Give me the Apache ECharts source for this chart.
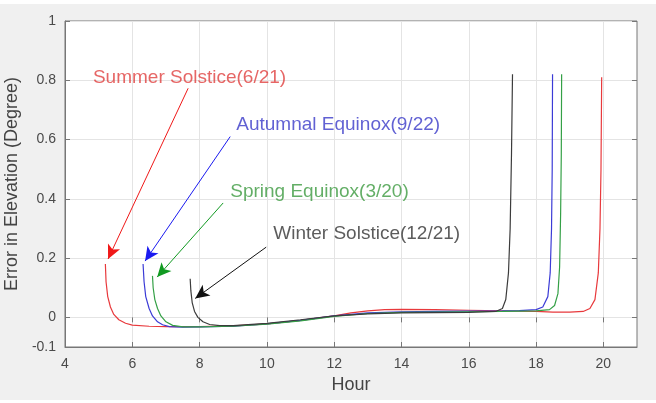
<!DOCTYPE html>
<html>
<head>
<meta charset="utf-8">
<script src="https://cdn.jsdelivr.net/npm/echarts@6/dist/echarts.min.js"></script>
<style>
  html, body { margin: 0; padding: 0; background: #f0f0f0; }
  #chart { width: 656px; height: 403px; }
</style>
</head>
<body>
<div id="chart"></div>
<script>
  // hour / error pairs
  const summer = [
    [5.2, 0.18], [5.22, 0.12], [5.27, 0.07], [5.35, 0.035], [5.45, 0.01], [5.6, -0.008],
    [5.8, -0.02], [6.0, -0.026], [6.5, -0.03], [7, -0.031], [8, -0.031], [9, -0.029],
    [10, -0.022], [11, -0.01], [12, 0.005], [12.5, 0.015], [13, 0.022], [13.5, 0.026],
    [14, 0.027], [15, 0.026], [16, 0.024], [17, 0.022], [18, 0.02], [18.5, 0.018],
    [19, 0.018], [19.4, 0.02], [19.6, 0.03], [19.75, 0.06], [19.85, 0.15], [19.9, 0.3],
    [19.93, 0.5], [19.95, 0.81]
  ];
  const autumn = [
    [6.32, 0.18], [6.35, 0.12], [6.4, 0.07], [6.5, 0.03], [6.6, 0.005], [6.75, -0.015],
    [6.9, -0.025], [7.1, -0.031], [7.5, -0.033], [8, -0.032], [9, -0.03], [10, -0.022],
    [11, -0.01], [12, 0.005], [13, 0.015], [14, 0.019], [15, 0.02], [16, 0.021],
    [17, 0.022], [17.5, 0.023], [18, 0.026], [18.2, 0.035], [18.35, 0.07], [18.42, 0.15],
    [18.46, 0.3], [18.48, 0.5], [18.49, 0.82]
  ];
  const spring = [
    [6.6, 0.14], [6.62, 0.1], [6.67, 0.06], [6.75, 0.03], [6.85, 0.005], [7.0, -0.015],
    [7.2, -0.027], [7.5, -0.032], [8, -0.032], [9, -0.03], [10, -0.023], [11, -0.012],
    [12, 0.003], [13, 0.013], [14, 0.017], [15, 0.018], [16, 0.019], [17, 0.02],
    [18, 0.022], [18.4, 0.026], [18.55, 0.04], [18.65, 0.08], [18.7, 0.17], [18.73, 0.35],
    [18.75, 0.55], [18.76, 0.82]
  ];
  const winter = [
    [7.72, 0.13], [7.74, 0.09], [7.78, 0.05], [7.85, 0.02], [7.95, 0], [8.1, -0.015],
    [8.3, -0.024], [8.6, -0.028], [9, -0.028], [10, -0.02], [11, -0.008], [12, 0.005],
    [13, 0.012], [14, 0.015], [15, 0.016], [16, 0.017], [16.8, 0.02], [17.0, 0.03],
    [17.1, 0.06], [17.18, 0.15], [17.23, 0.3], [17.27, 0.55], [17.3, 0.82]
  ];

  const names = ['Summer Solstice(6/21)', 'Autumnal Equinox(9/22)', 'Spring Equinox(3/20)', 'Winter Solstice(12/21)'];
  // where each label starts (left edge, middle), in hours / degrees
  const labelPos = [[4.83, 0.81], [9.09, 0.65], [8.91, 0.424], [10.19, 0.281]];
  // arrow tail -> head
  const arrows = [
    [[7.66, 0.773], [5.28, 0.197]],
    [[8.91, 0.61], [6.38, 0.19]],
    [[8.7, 0.386], [6.74, 0.136]],
    [[9.98, 0.237], [7.87, 0.064]]
  ];
  const xTicks = [4, 6, 8, 10, 12, 14, 16, 18, 20];
  const yTicks = [-0.1, 0, 0.2, 0.4, 0.6, 0.8, 1];

  const lineColors = ['#e8393c', '#3b3bd6', '#34a046', '#3c3c3c'];
  const arrowColors = ['#f01818', '#1a1af0', '#119a22', '#111111'];
  const textColors = ['#e0403f', '#3a3ac8', '#3c9a40', '#333333'];
  const curves = [summer, autumn, spring, winter];

  const chart = echarts.init(document.getElementById('chart'));

  const font = 'Liberation Sans';
  const tickLabel = { color: '#4a4a4a', fontSize: 14, fontFamily: font };

  const series = curves.map((data, i) => ({
    name: names[i],
    type: 'line',
    data: data,
    showSymbol: false,
    smooth: false,
    lineStyle: { color: lineColors[i], width: 1.2 },
    z: 3,
    markLine: {
      silent: true,
      symbol: ['none', 'arrow'],
      symbolSize: [10, 14],
      label: { show: false },
      lineStyle: { color: arrowColors[i], width: 1, type: 'solid' },
      data: [[{ coord: arrows[i][0] }, { coord: arrows[i][1] }]]
    }
  }));

  series.push({
    type: 'scatter',
    symbolSize: 0,
    silent: true,
    z: 4,
    data: names.map((n, i) => ({
      value: labelPos[i],
      name: n,
      label: { color: textColors[i] }
    })),
    label: {
      show: true,
      position: 'right',
      distance: 0,
      formatter: p => p.name,
      fontSize: 19,
      fontFamily: font
    }
  });

  chart.setOption({
    backgroundColor: '#f0f0f0',
    animation: false,
    grid: {
      left: 65, right: 19, top: 21, bottom: 56,
      outerBoundsMode: 'none',
      show: true, backgroundColor: '#ffffff', borderColor: '#777777', borderWidth: 1
    },
    xAxis: [{
      type: 'value', min: 4, max: 21, interval: 2,
      name: 'Hour', nameLocation: 'middle', nameGap: 27,
      nameTextStyle: { color: '#444', fontSize: 18, fontFamily: font },
      axisLine: { show: true, onZero: false, lineStyle: { color: '#777' } },
      axisTick: { inside: true, length: 5, lineStyle: { color: '#777' }, customValues: xTicks },
      axisLabel: Object.assign({ margin: 10, customValues: xTicks }, tickLabel),
      splitLine: { show: true, lineStyle: { color: '#e4e4e4' } }
    }, {
      type: 'value', min: 4, max: 21, position: 'top',
      axisLine: { show: false },
      axisTick: { inside: true, length: 5, lineStyle: { color: '#777' }, customValues: xTicks },
      axisLabel: { show: false, customValues: xTicks },
      splitLine: { show: false }
    }],
    yAxis: [{
      type: 'value', min: -0.1, max: 1,
      name: 'Error in Elevation (Degree)', nameLocation: 'middle', nameGap: 34,
      nameTextStyle: { color: '#444', fontSize: 18, fontFamily: font },
      axisLine: { show: true, onZero: false, lineStyle: { color: '#777' } },
      axisTick: { show: true, inside: true, length: 5, lineStyle: { color: '#777' }, customValues: yTicks },
      axisLabel: Object.assign({ margin: 9, customValues: yTicks, formatter: v => String(Math.round(v * 10) / 10) }, tickLabel),
      splitLine: { show: true, lineStyle: { color: '#e4e4e4' } }
    }, {
      type: 'value', min: -0.1, max: 1, position: 'right',
      axisLine: { show: false },
      axisTick: { show: true, inside: true, length: 5, lineStyle: { color: '#777' }, customValues: yTicks },
      axisLabel: { show: false, customValues: yTicks },
      splitLine: { show: false }
    }],
    graphic: [
      { type: 'rect', left: 0, top: 0, shape: { width: 656, height: 4 }, style: { fill: '#ffffff' }, silent: true },
      { type: 'rect', left: 0, bottom: 0, shape: { width: 656, height: 3 }, style: { fill: '#ffffff' }, silent: true }
    ],
    series: series
  });
</script>
</body>
</html>
